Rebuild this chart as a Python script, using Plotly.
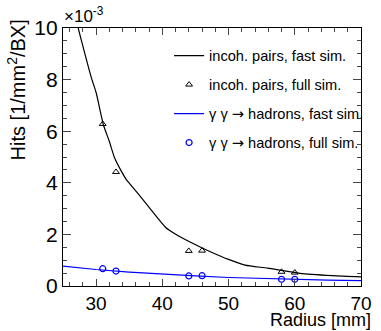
import plotly.graph_objects as go

# values in units of 1e-3 hits / mm^2 / BX
pairs_fast_r = [27.0, 27.3, 28.0, 29.3, 30.0, 31.1, 32.0, 32.8, 33.7, 34.6, 36.3, 38.3, 40.5, 42.2, 45.1, 47.5, 50.0, 52.5, 55.9, 60.8, 65.7, 70.0]
pairs_fast_h = [10.4, 10.0, 9.3, 8.06, 7.5, 6.25, 5.6, 4.96, 4.5, 4.11, 3.59, 2.95, 2.27, 1.98, 1.59, 1.3, 1.03, 0.81, 0.69, 0.49, 0.40, 0.35]

pairs_full_r = [31, 33, 44, 46, 58, 60]
pairs_full_h = [6.28, 4.42, 1.36, 1.37, 0.55, 0.52]

had_fast_r = [25, 30, 35, 40, 45, 50, 55, 60, 65, 70]
had_fast_h = [0.77, 0.64, 0.54, 0.46, 0.39, 0.33, 0.29, 0.26, 0.23, 0.21]

had_full_r = [31, 33, 44, 46, 58, 60]
had_full_h = [0.67, 0.58, 0.39, 0.40, 0.26, 0.26]

arrow = "<span style='font-family:DejaVu Sans'>→</span>"

fig = go.Figure()
fig.add_trace(go.Scatter(x=pairs_fast_r, y=pairs_fast_h, mode="lines",
                         line=dict(color="black", width=1.2, shape="spline", smoothing=0.6),
                         name="incoh. pairs, fast sim.", legendgroup="a"))
fig.add_trace(go.Scatter(x=pairs_full_r, y=pairs_full_h, mode="markers",
                         marker=dict(symbol="triangle-up-open", color="black", size=6, line=dict(width=1)),
                         name="incoh. pairs, full sim.", legendgroup="b"))
fig.add_trace(go.Scatter(x=had_fast_r, y=had_fast_h, mode="lines",
                         line=dict(color="#0000ff", width=1.2),
                         name="γ γ " + arrow + " hadrons, fast sim.", legendgroup="c"))
fig.add_trace(go.Scatter(x=had_full_r, y=had_full_h, mode="markers",
                         marker=dict(symbol="circle-open", color="#0000ff", size=6, line=dict(width=1.2)),
                         name="γ γ " + arrow + " hadrons, full sim.", legendgroup="d"))

font = "Liberation Sans, Arial, Helvetica, sans-serif"
fig.update_layout(
    width=381, height=331,
    margin=dict(l=63, r=9, t=28, b=45),
    paper_bgcolor="white", plot_bgcolor="white",
    font=dict(family=font, color="black"),
    showlegend=True,
    legend=dict(x=0.356, y=0.955, xanchor="left", yanchor="top",
                bgcolor="rgba(0,0,0,0)", font=dict(size=14.6, family=font),
                tracegroupgap=7, traceorder="grouped", itemwidth=30),
    xaxis=dict(range=[25, 70], tickvals=[30, 40, 50, 60, 70], ticks="inside", ticklen=7,
               tickfont=dict(size=19), ticklabelstandoff=0, showgrid=False, zeroline=False,
               showline=True, linecolor="black", linewidth=1.2, mirror="ticks",
               minor=dict(dtick=2, tick0=0, ticks="inside", ticklen=4, showgrid=False)),
    yaxis=dict(range=[0, 10], tickvals=[0, 2, 4, 6, 8, 10], ticks="inside", ticklen=8,
               tickfont=dict(size=21), showgrid=False, zeroline=False,
               showline=True, linecolor="black", linewidth=1.2, mirror="ticks",
               minor=dict(dtick=0.5, tick0=0, ticks="inside", ticklen=4, showgrid=False)),
    annotations=[
        dict(text="×10<sup>-3</sup>", xref="paper", yref="paper", x=-0.005, y=1.0,
             xanchor="left", yanchor="bottom", showarrow=False, font=dict(size=17, family=font)),
        dict(text="Hits [1/mm<sup>2</sup>/BX]", xref="paper", yref="paper", x=-0.157, y=1.04,
             xanchor="center", yanchor="top", textangle=-90, showarrow=False,
             font=dict(size=20, family=font)),
        dict(text="Radius [mm]", xref="paper", yref="paper", x=1.04, y=-0.18,
             xanchor="right", yanchor="bottom", showarrow=False, font=dict(size=18, family=font)),
    ],
)
fig.write_html("out.html")
